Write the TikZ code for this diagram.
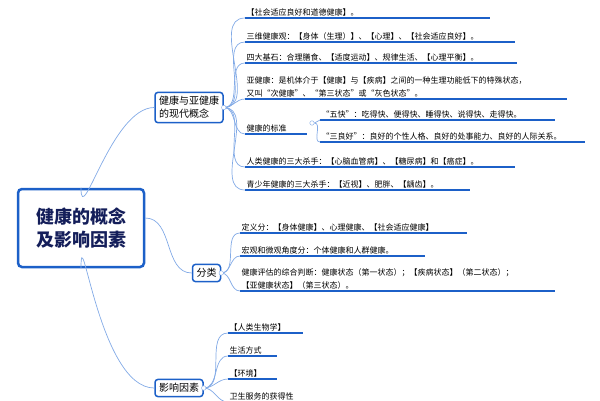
\documentclass[tikz,border=0pt]{standalone}
\usepackage{fontspec}
\setmainfont{Noto Sans CJK SC}
\definecolor{mapblue}{RGB}{28,96,200}
\definecolor{linkblue}{RGB}{130,170,230}
\definecolor{rootink}{RGB}{20,30,90}
\tikzset{
  rootbox/.style={draw=mapblue,line width=2.5pt,rounded corners=4pt,fill=white,minimum width=126pt,minimum height=78pt,align=center,font=\bfseries\fontsize{18}{23}\selectfont,text=rootink},
  branchbox/.style={draw=mapblue,line width=1.5pt,rounded corners=3pt,fill=white,align=left,font=\fontsize{10}{13}\selectfont,inner sep=4pt},
  leaftext/.style={anchor=south west,inner sep=1.5pt,align=left,font=\fontsize{8}{13.5}\selectfont},
  underline/.style={draw=mapblue,line width=1.6pt},
  link/.style={draw=linkblue,line width=0.7pt},
  knob/.style={draw=linkblue,fill=white,circle,inner sep=1.6pt},
}
% leaf: name, x, line y, line end x, text
\newcommand{\leaf}[5]{%
  \node[leaftext] (#1) at (#2,#3) {#5};
  \draw[underline] (#2,#3) -- (#4,#3);
  \coordinate (#1s) at (#2,#3);
}
\begin{document}
\begin{tikzpicture}[x=1pt,y=1pt,yscale=-1]
\useasboundingbox (0,0) rectangle (600,400);

% leaves of the first branch
\leaf{la}{245}{18}{490}{【社会适应良好和道德健康】。}
\leaf{lb}{245}{42}{515}{三维健康观：【身体（生理）】、【心理】、【社会适应良好】。}
\leaf{lc}{245}{63}{517}{四大基石：合理膳食、【适度运动】、规律生活、【心理平衡】。}
\leaf{ld}{245}{99}{567}{亚健康：是机体介于【健康】与【疾病】之间的一种生理功能低下的特殊状态，\\又叫“次健康”、“第三状态”或“灰色状态”。}
\leaf{le}{245}{134}{307}{健康的标准}
\leaf{lf}{245}{167}{515}{人类健康的三大杀手：【心脑血管病】、【糖尿病】和【癌症】。}
\leaf{lg}{245}{190}{470}{青少年健康的三大杀手：【近视】、肥胖、【龋齿】。}
\leaf{ea}{320}{120}{555}{“五快”：吃得快、便得快、睡得快、说得快、走得快。}
\leaf{eb}{320}{142}{585}{“三良好”：良好的个性人格、良好的处事能力、良好的人际关系。}

% leaves of the second branch
\leaf{ma}{240}{233}{467}{定义分：【身体健康】、心理健康、【社会适应健康】}
\leaf{mb}{240}{256}{425}{宏观和微观角度分：个体健康和人群健康。}
\leaf{mc}{240}{291}{555}{健康评估的综合判断：健康状态（第一状态）；【疾病状态】（第二状态）；\\【亚健康状态】（第三状态）。}

% leaves of the third branch
\leaf{na}{228}{333}{303}{【人类生物学】}
\leaf{nb}{228}{356}{277}{生活方式}
\leaf{nc}{228}{379}{277}{【环境】}
\leaf{nd}{228}{402}{300}{卫生服务的获得性}

% boxes
\node[rootbox] (root) at (81,228) {健康的概念\\及影响因素};
\node[branchbox] (modern) at (189,107.5) {健康与亚健康\\的现代概念};
\node[branchbox] (kinds) at (206.5,273) {分类};
\node[branchbox] (factor) at (179,388) {影响因素};

% connectors
\draw[link] (root.north) to[out=90,in=180] (modern.west);
\draw[link] (root.east) ++(0,-10) to[out=0,in=180] (kinds.west);
\draw[link] (root.south) to[out=-90,in=180] (factor.west);
\foreach \l in {la,lb,lc,ld,le,lf,lg}
  \draw[link] (modern.east) to[out=0,in=180] (\l s);
\foreach \l in {ma,mb,mc}
  \draw[link] (kinds.east) to[out=0,in=180] (\l s);
\foreach \l in {na,nb,nc,nd}
  \draw[link] (factor.east) to[out=0,in=180] (\l s);
\node[knob] (kle) at (312,123) {};
\draw[link] (kle.east) to[out=0,in=180] (eas);
\draw[link] (kle.east) to[out=0,in=180] (ebs);
\node[knob] at (modern.east) {};
\node[knob] at (kinds.east) {};
\node[knob] at (factor.east) {};
\end{tikzpicture}
\end{document}
